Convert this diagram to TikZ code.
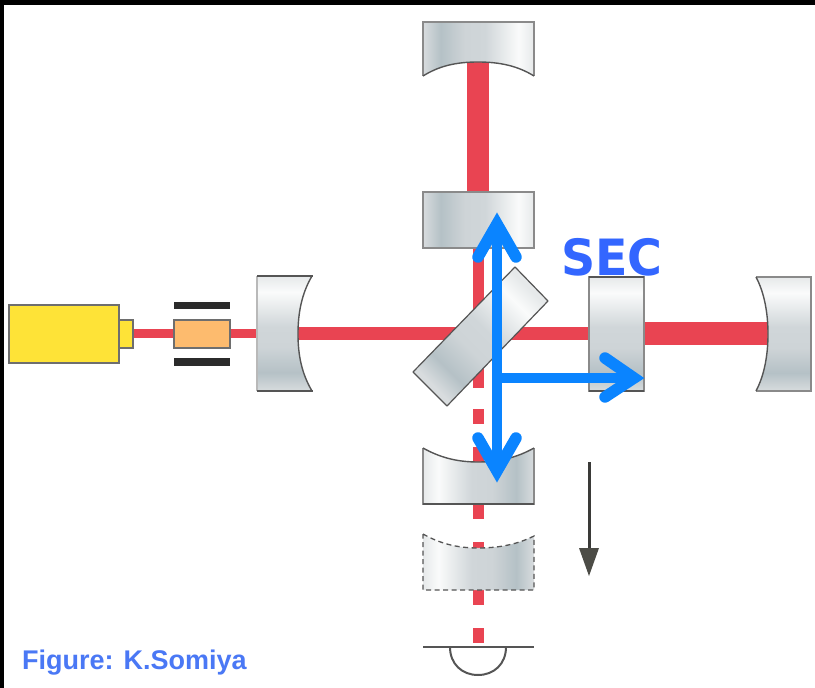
\documentclass[tikz,border=0pt]{standalone}
\usepackage{fontspec}
\setmainfont{Liberation Sans}
\newfontfamily\secfont{DejaVu Sans}
\definecolor{mirA}{HTML}{E6E9EA}
\definecolor{mirB}{HTML}{FAFBFB}
\definecolor{mirC}{HTML}{D0D6D9}
\definecolor{mirD}{HTML}{CED4D7}
\definecolor{mirE}{HTML}{B5C1C6}
\definecolor{mirF}{HTML}{D8DCDE}
\pgfdeclarehorizontalshading{mirgrad}{100bp}{
 color(0bp)=(mirA); color(25bp)=(mirA); color(32bp)=(mirB); color(47bp)=(mirC);
 color(56bp)=(mirD); color(67bp)=(mirE); color(75bp)=(mirF); color(100bp)=(mirF)}
\definecolor{beamred}{HTML}{E94452}
\definecolor{edgedark}{HTML}{555555}
\definecolor{edgelight}{HTML}{8A8A8A}
\definecolor{laseryellow}{HTML}{FEE337}
\definecolor{eomorange}{HTML}{FDBB6E}
\definecolor{barblack}{HTML}{2B2B2B}
\definecolor{arrowblue}{HTML}{0A84FF}
\definecolor{textblue}{HTML}{3366FF}
\definecolor{creditblue}{HTML}{4A78F5}
\definecolor{downgray}{HTML}{3A3A38}
\definecolor{headgray}{HTML}{4C4C46}
\tikzset{
  beam/.style={fill=beamred,draw=none},
  mirV/.style={shading=mirgrad,shading angle=-90},
  mirLR/.style={shading=mirgrad,shading angle=0},
  mirRL/.style={shading=mirgrad,shading angle=180},
  edgeS/.style={draw=edgelight,line width=1.3pt},
  edgeC/.style={draw=edgedark,line width=1.4pt},
  boxy/.style={draw=edgelight!80!black,line width=1.3pt},
  blueline/.style={draw=arrowblue,line width=11.5pt,line cap=round,line join=miter,miter limit=10},
  blueshaft/.style={draw=arrowblue,line width=10pt,line cap=butt},
}
\begin{document}
\begin{tikzpicture}[x=1pt,y=-1pt]
\useasboundingbox (0,0) rectangle (815,688);
\fill[white] (0,0) rectangle (815,688);
\fill[black] (0,0) rectangle (815,5);
\fill[black] (0,0) rectangle (4,688);

% beams
\fill[beam] (467,62) rectangle (489,192);
\fill[beam] (473,248) rectangle (484,388);
\fill[beam] (473,409) rectangle (484,424);
\fill[beam] (473,447) rectangle (484,463);
\fill[beam] (473,504) rectangle (484,519);
\fill[beam] (473,542) rectangle (484,549);
\fill[beam] (473,590) rectangle (484,605);
\fill[beam] (473,628) rectangle (484,643);
\fill[beam] (133,329) rectangle (175,338);
\fill[beam] (230,329) rectangle (258,338);
\fill[beam] (297,327) rectangle (590,340);
\fill[beam] (643,322) rectangle (770,345);

% laser
\filldraw[fill=laseryellow,boxy] (9,305) rectangle (119,363);
\filldraw[fill=laseryellow,boxy] (119,320) rectangle (133,348);
% modulator
\fill[barblack] (174,302) rectangle (230,309);
\fill[barblack] (174,358) rectangle (230,366);
\filldraw[fill=eomorange,boxy] (174,320) rectangle (230,348);

% left mirror
\path[mirV] (257,276) -- (312,276) .. controls (302,293) and (298,312) .. (298,334) .. controls (298,356) and (302,374) .. (312,391) -- (257,391) -- cycle;
\draw[edgeS,draw=edgelight!60] (257,276) -- (257,391);
\draw[edgeC] (257,276) -- (313,276);
\draw[edgeC] (257,391) -- (313,391);
\draw[edgeC] (312,276) .. controls (302,293) and (298,312) .. (298,334) .. controls (298,356) and (302,374) .. (312,391);

% top mirror
\path[mirRL] (423,22) -- (534,22) -- (534,76) .. controls (518,66) and (500,62) .. (478,62) .. controls (456,62) and (439,66) .. (423,76) -- cycle;
\draw[edgeS] (423,76) -- (423,22) -- (534,22) -- (534,76);
\draw[edgeC] (534,76) .. controls (518,66) and (500,62) .. (478,62) .. controls (456,62) and (439,66) .. (423,76);

% upper input mirror
\path[mirRL] (423,192) rectangle (534,248);
\draw[edgeS] (423,192) rectangle (534,248);

% beam splitter
\path[shading=mirgrad,shading angle=-135] (515,267) -- (548,301) -- (447,406) -- (413,372) -- cycle;
\draw[draw=edgedark,line width=1.2pt,line join=bevel] (515,267) -- (548,301) -- (447,406) -- (413,372) -- cycle;

% signal mirror
\path[mirV] (589,277) rectangle (644,391);
\draw[edgeS] (589,277) rectangle (644,391);
\draw[edgeC] (589,277) -- (644,277);
\draw[edgeC] (589,391) -- (644,391);

% right mirror
\path[mirV] (756,277) -- (811,277) -- (811,391) -- (756,391) .. controls (764,376) and (768,356) .. (768,334) .. controls (768,312) and (764,292) .. (756,277) -- cycle;
\draw[edgeS] (756,277) -- (811,277) -- (811,391) -- (756,391);
\draw[edgeC] (756,391) .. controls (764,376) and (768,356) .. (768,334) .. controls (768,312) and (764,292) .. (756,277);

% lower mirror
\path[mirLR] (423,448) .. controls (439,457) and (456,462) .. (478,462) .. controls (500,462) and (518,457) .. (534,448) -- (534,504) -- (423,504) -- cycle;
\draw[edgeS] (423,448) -- (423,504) -- (534,504) -- (534,448);
\draw[edgeC] (423,504) -- (534,504);
\draw[edgeC] (423,448) .. controls (439,457) and (456,462) .. (478,462) .. controls (500,462) and (518,457) .. (534,448);

% dashed mirror
\path[mirLR] (423,534) .. controls (439,543) and (456,548) .. (478,548) .. controls (500,548) and (518,544) .. (534,536) -- (534,590) -- (423,590) -- cycle;
\draw[edgedark,line width=1.3pt,dash pattern=on 5pt off 3.5pt] (423,534) .. controls (439,543) and (456,548) .. (478,548) .. controls (500,548) and (518,544) .. (534,536) -- (534,590) -- (423,590) -- cycle;

% detector
\draw[edgedark,line width=2.2pt] (423,647) -- (534,647);
\draw[edgedark,line width=2pt] (450,647) .. controls (450,664) and (462,675) .. (478,675) .. controls (494,675) and (506,664) .. (506,647);

% motion arrow
\draw[downgray,line width=3pt] (589,462) -- (589,550);
\fill[headgray] (579,548) -- (599,548) -- (589,576) -- cycle;

% blue arrows
\coordinate (upTip) at (497,224);
\coordinate (downTip) at (497,471);
\coordinate (rightTip) at (634,378);
\coordinate (branch) at (497,378);
\draw[blueshaft] (upTip) -- (downTip);
\draw[blueshaft] (branch) -- (rightTip);
\draw[blueline] (478,257) -- (upTip) -- (516,257);
\draw[blueline] (478,438) -- (downTip) -- (516,438);
\draw[blueline] (605,358) -- (rightTip) -- (605,397);

% labels
\node[anchor=base west,inner sep=0pt,text=textblue,xscale=0.95] (seclabel) at (561,275)
  {\secfont\bfseries\fontsize{50}{50}\selectfont SEC};
\node[anchor=base west,inner sep=0pt,text=creditblue] (credit) at (22,669)
  {\bfseries\fontsize{27}{27}\selectfont Figure: K.Somiya};
\end{tikzpicture}
\end{document}
